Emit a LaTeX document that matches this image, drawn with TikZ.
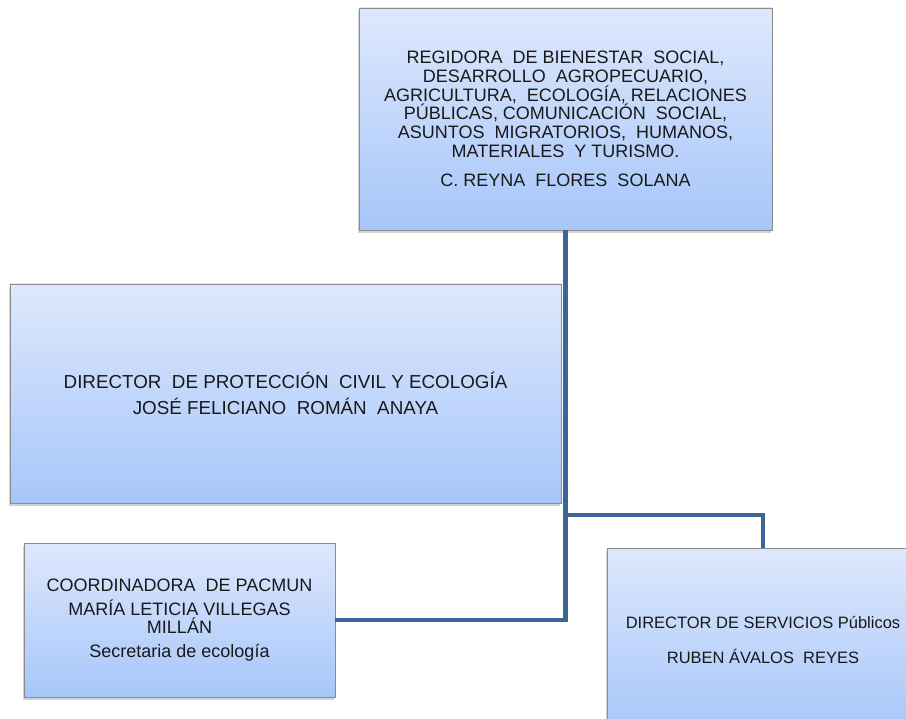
\documentclass[tikz,border=0pt]{standalone}
\usepackage{fontspec}
\setmainfont{Liberation Sans}
\usepackage{tikz}
\usetikzlibrary{shadows}

\definecolor{boxtop}{RGB}{222,232,252}
\definecolor{boxbot}{RGB}{166,198,250}
\definecolor{boxline}{RGB}{140,140,140}
\definecolor{linkcol}{RGB}{60,100,148}

\begin{document}
\begin{tikzpicture}[x=1pt,y=-1pt]
            \clip (0,0) rectangle (906,719);
            \fill[white] (0,0) rectangle (906,719);
            \begin{scope}[every node/.style={draw=boxline, line width=0.8pt, top color=boxtop, bottom color=boxbot,
                    drop shadow={opacity=0.35, shadow xshift=-1.5pt, shadow yshift=-3pt},
                    inner sep=0pt, align=center, text=black!90, font=\fontsize{18}{18.8}\selectfont}]
                \node[minimum width=413pt, minimum height=222pt] (1) at (565.5,119) {REGIDORA~~DE BIENESTAR~~SOCIAL,\\
                    DESARROLLO~~AGROPECUARIO,\\
                    AGRICULTURA,~~ECOLOGÍA, RELACIONES\\
                    PÚBLICAS, COMUNICACIÓN~~SOCIAL,\\
                    ASUNTOS~~MIGRATORIOS,~~HUMANOS,\\
                    MATERIALES~~Y TURISMO.\\[10.5pt]
                    C. REYNA~~FLORES~~SOLANA};

                \node[minimum width=551pt, minimum height=219pt, font=\fontsize{18.8}{19.6}\selectfont] (2) at (285.5,393.5) {DIRECTOR~~DE PROTECCIÓN~~CIVIL Y ECOLOGÍA\\[6.5pt]
                    JOSÉ FELICIANO~~ROMÁN~~ANAYA};

                \node[minimum width=311pt, minimum height=154pt] (3) at (179.5,620) {COORDINADORA~~DE PACMUN\\[5pt]
                    MARÍA LETICIA VILLEGAS\\
                    MILLÁN\\[5pt]
                    Secretaria de ecología};

                \node[minimum width=312pt, minimum height=184pt, font=\fontsize{16.5}{17.5}\selectfont] (4) at (763,640) {DIRECTOR DE SERVICIOS Públicos\\[17pt]
                    RUBEN ÁVALOS~~REYES};
            \end{scope}
            \coordinate (b) at (565.5,515);
            \begin{scope}[every path/.style={draw=linkcol, line width=4.5pt}]
                \draw (1.south) |- (3.east);
                \draw (b) -| (4.north);
            \end{scope}
        \end{tikzpicture}
\end{document}
